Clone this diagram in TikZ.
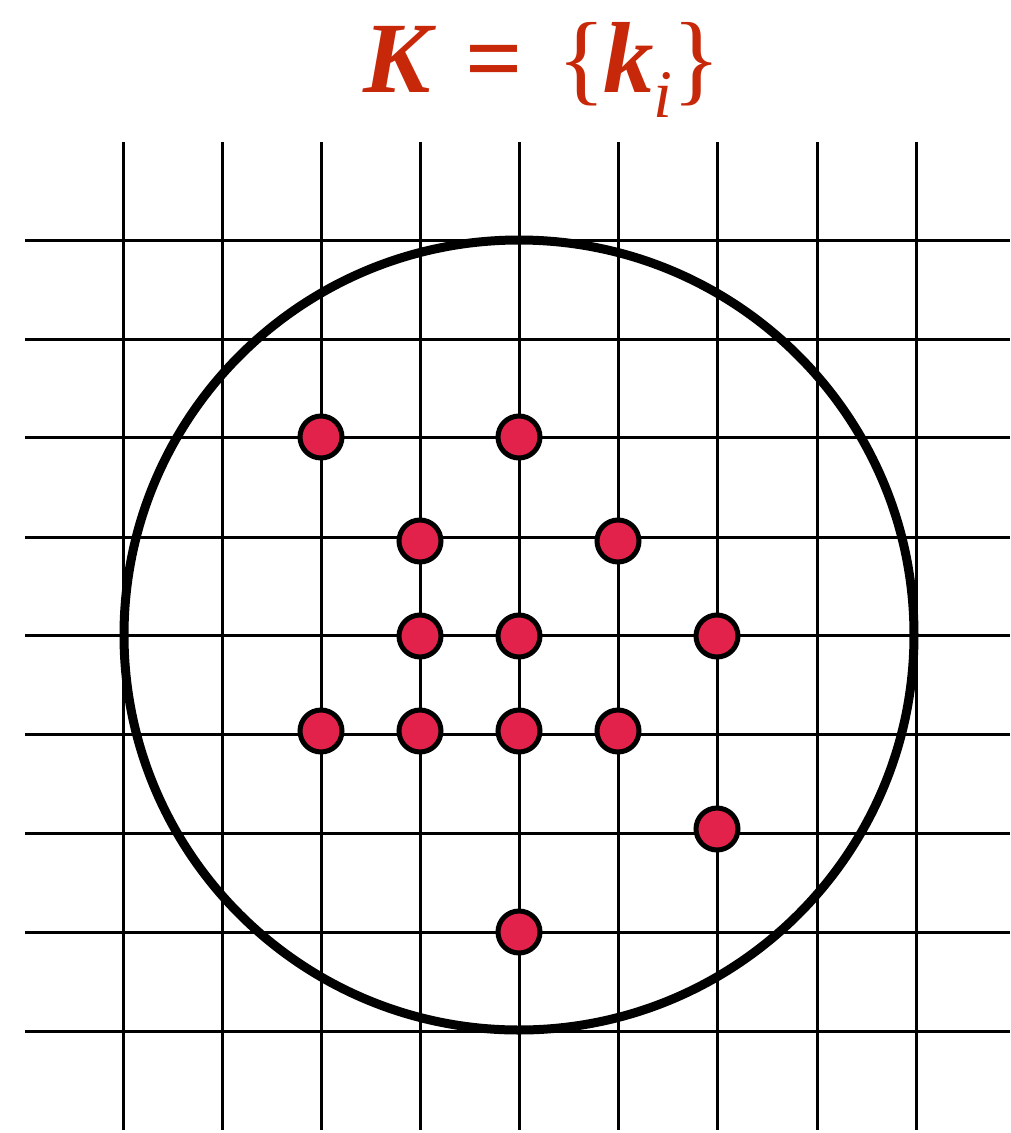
\documentclass[tikz,border=0pt]{standalone}
\usepackage{fontspec}
\setmainfont{Liberation Serif}
\definecolor{titlered}{RGB}{200,40,10}
\definecolor{dotred}{RGB}{226,34,74}
\begin{document}
\begin{tikzpicture}[x=1pt,y=-1pt,
  gridline/.style={line width=3pt,black},
  bigcircle/.style={line width=9pt,black},
  keydot/.style={circle,draw=black,line width=5pt,fill=dotred,minimum size=42pt,inner sep=0pt},
  titlepart/.style={anchor=base,inner sep=0pt,text=titlered,font=\fontsize{101}{101}\selectfont}]
\useasboundingbox (0,0) rectangle (1010,1133);
% grid
\foreach \x in {123,222,321,420,519,618,717,817,916}
  \draw[gridline] (\x,142) -- (\x,1130);
\foreach \y in {240,339,437,537,635,734,833,932,1031}
  \draw[gridline] (25,\y) -- (1010,\y);
% circle
\draw[bigcircle] (519,635) circle[radius=395];
% dots
\node[keydot] (d1) at (321,437) {};
\node[keydot] (d2) at (519,437) {};
\node[keydot] (d3) at (420,541) {};
\node[keydot] (d4) at (618,541) {};
\node[keydot] (d5) at (420,636) {};
\node[keydot] (d6) at (519,636) {};
\node[keydot] (d7) at (717,636) {};
\node[keydot] (d8) at (321,731) {};
\node[keydot] (d9) at (420,731) {};
\node[keydot] (d10) at (519,731) {};
\node[keydot] (d11) at (618,731) {};
\node[keydot] (d12) at (717,829) {};
\node[keydot] (d13) at (519,932) {};
% title
\node[titlepart] (tK) at (397,92) {\bfseries\itshape K};
\node[titlepart] (teq) at (494,92) {\bfseries =};
\node[titlepart] (tlb) at (582,92) {\{};
\node[titlepart] (tk) at (629,92) {\bfseries\itshape k};
\node[titlepart,font=\fontsize{68}{68}\selectfont] (ti) at (663,117) {\itshape i};
\node[titlepart] (trb) at (697,92) {\}};
\end{tikzpicture}
\end{document}
